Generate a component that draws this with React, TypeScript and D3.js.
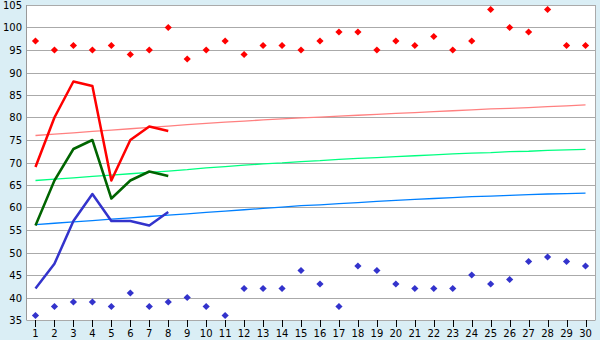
import React from "react";
import * as d3 from "d3";

const categories: string[] = Array.from({ length: 30 }, (_, i) => String(i + 1));

const redPoints: number[] = [97, 95, 96, 95, 96, 94, 95, 100, 93, 95, 97, 94, 96, 96, 95, 97, 99, 99, 95, 97, 96, 98, 95, 97, 104, 100, 99, 104, 96, 96];
const bluePoints: number[] = [36, 38, 39, 39, 38, 41, 38, 39, 40, 38, 36, 42, 42, 42, 46, 43, 38, 47, 46, 43, 42, 42, 42, 45, 43, 44, 48, 49, 48, 47];

const redLine: number[] = [69, 80, 88, 87, 66, 75, 78, 77];
const greenLine: number[] = [56, 66, 73, 75, 62, 66, 68, 67];
const blueLine: number[] = [42, 47.5, 57, 63, 57, 57, 56, 59];

const redTrend: number[] = [76.0, 76.3, 76.6, 76.9, 77.2, 77.5, 77.8, 78.1, 78.4, 78.7, 78.95, 79.2, 79.45, 79.7, 79.9, 80.1, 80.3, 80.5, 80.7, 80.9, 81.1, 81.3, 81.5, 81.7, 81.9, 82.05, 82.2, 82.4, 82.6, 82.8];
const greenTrend: number[] = [66.0, 66.3, 66.6, 66.9, 67.2, 67.5, 67.8, 68.1, 68.4, 68.8, 69.1, 69.4, 69.7, 69.9, 70.2, 70.4, 70.7, 70.9, 71.1, 71.3, 71.5, 71.7, 71.9, 72.1, 72.2, 72.4, 72.5, 72.7, 72.8, 72.9];
const blueTrend: number[] = [56.2, 56.5, 56.8, 57.1, 57.4, 57.7, 58.0, 58.3, 58.6, 58.9, 59.2, 59.5, 59.8, 60.1, 60.4, 60.6, 60.85, 61.1, 61.35, 61.6, 61.8, 62.0, 62.2, 62.4, 62.55, 62.7, 62.85, 63.0, 63.1, 63.2];

const yTicks: number[] = [35, 40, 45, 50, 55, 60, 65, 70, 75, 80, 85, 90, 95, 100, 105];

const W = 600;
const H = 340;
const left = 27;
const right = 595;
const top = 5;
const bottom = 320;

export default function App() {
  const xb = d3.scaleBand<string>().domain(categories).range([26, 595]);
  const x = (i: number) => (xb(categories[i]) as number) + xb.bandwidth() / 2;
  const y = d3.scaleLinear().domain([35, 105]).range([bottom, top]);

  const line = d3
    .line<number>()
    .x((_, i) => x(i))
    .y((d) => y(d));

  const diamond = (cx: number, cy: number, r: number) =>
    `M${cx},${cy - r}L${cx + r},${cy}L${cx},${cy + r}L${cx - r},${cy}Z`;

  const font = "'DejaVu Sans', Verdana, sans-serif";

  return (
    <svg
      width={W}
      height={H}
      style={{ position: "absolute", left: 0, top: 0, display: "block" }}
    >
      <rect x={0} y={0} width={W} height={H} fill="#daeef5" />
      <rect x={left} y={top} width={right - left} height={bottom - top} fill="#ffffff" />
      {yTicks.map((t) => {
        const yy = Math.round(y(t)) + 0.5;
        return (
          <g key={t}>
            <line x1={left} x2={right} y1={yy} y2={yy} stroke="#aaaaaa" strokeWidth={1} />
            <text
              x={22}
              y={yy + 3.5}
              textAnchor="end"
              fontFamily={font}
              fontSize={10}
              fill="#000"
            >
              {t}
            </text>
          </g>
        );
      })}
      <line x1={left - 0.5} x2={left - 0.5} y1={top} y2={bottom + 0.5} stroke="#999999" />
      <line x1={right + 0.5} x2={right + 0.5} y1={top} y2={bottom + 0.5} stroke="#aaaaaa" />
      {categories.map((c, i) => {
        const xx = Math.round(x(i)) + 0.5;
        return (
          <g key={c}>
            <line x1={xx} x2={xx} y1={bottom} y2={bottom + 7} stroke="#000" />
            <text
              x={x(i)}
              y={337}
              textAnchor="middle"
              fontFamily={font}
              fontSize={10}
              fill="#000"
            >
              {c}
            </text>
          </g>
        );
      })}

      <path d={line(redTrend) || ""} fill="none" stroke="#ff8080" strokeWidth={1.3} />
      <path d={line(greenTrend) || ""} fill="none" stroke="#00ff80" strokeWidth={1.3} />
      <path d={line(blueTrend) || ""} fill="none" stroke="#0080ff" strokeWidth={1.3} />

      <path d={line(redLine) || ""} fill="none" stroke="#ff0000" strokeWidth={2.5} strokeLinejoin="round" />
      <path d={line(greenLine) || ""} fill="none" stroke="#006400" strokeWidth={2.5} strokeLinejoin="round" />
      <path d={line(blueLine) || ""} fill="none" stroke="#3333cc" strokeWidth={2.5} strokeLinejoin="round" />

      {redPoints.map((v, i) => (
        <path key={"r" + i} d={diamond(x(i), y(v), 3.6)} fill="#ff0000" />
      ))}
      {bluePoints.map((v, i) => (
        <path key={"b" + i} d={diamond(x(i), y(v), 3.6)} fill="#3333cc" />
      ))}
    </svg>
  );
}
